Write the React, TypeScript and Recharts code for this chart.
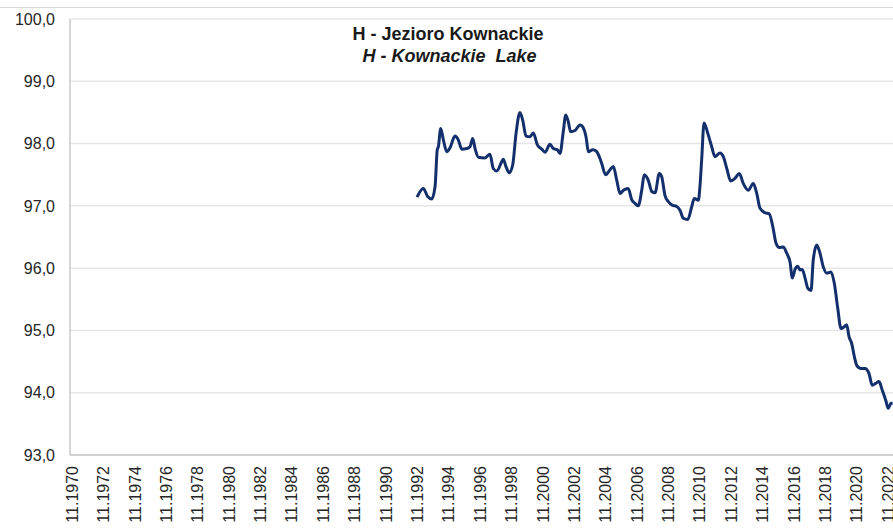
import { CartesianGrid, Line, LineChart, XAxis, YAxis } from 'recharts';

// water level of the lake (date as decimal year, value in m)
const dates = [
  1992.82, 1993.22, 1993.50, 1993.76, 1993.97, 1994.11, 1994.18, 1994.33, 1994.50, 1994.71,
  1994.92, 1995.24, 1995.45, 1995.67, 1995.99, 1996.20, 1996.37, 1996.52, 1996.73, 1997.15,
  1997.47, 1997.68, 1997.90, 1998.22, 1998.32, 1998.49, 1998.70, 1998.92, 1999.13, 1999.38,
  1999.55, 1999.77, 2000.02, 2000.23, 2000.49, 2000.77, 2000.98, 2001.29, 2001.51, 2001.76,
  2001.93, 2002.14, 2002.30, 2002.46, 2002.61, 2002.89, 2003.21, 2003.38, 2003.59, 2003.74,
  2004.02, 2004.27, 2004.48, 2004.59, 2004.84, 2005.12, 2005.33, 2005.55, 2005.76, 2005.97,
  2006.28, 2006.50, 2006.71, 2006.92, 2007.14, 2007.30, 2007.56, 2007.78, 2007.99, 2008.26,
  2008.41, 2008.62, 2008.83, 2009.09, 2009.37, 2009.58, 2009.79, 2010.07, 2010.33, 2010.49,
  2010.75, 2010.85, 2010.96, 2011.11, 2011.38, 2011.60, 2011.81, 2012.13, 2012.34, 2012.56,
  2012.81, 2013.08, 2013.36, 2013.61, 2013.93, 2014.25, 2014.47, 2014.68, 2015.00, 2015.27,
  2015.49, 2015.70, 2015.91, 2016.16, 2016.38, 2016.59, 2016.74, 2016.91, 2017.08, 2017.23,
  2017.37, 2017.55, 2017.72, 2017.93, 2018.07, 2018.29, 2018.50, 2018.71, 2018.93, 2019.20,
  2019.41, 2019.63, 2019.84, 2020.05, 2020.20, 2020.35, 2020.52, 2020.69, 2020.84, 2021.11,
  2021.37, 2021.62, 2021.83, 2022.05, 2022.26, 2022.47, 2022.69, 2022.85, 2023.03, 2023.13,
];

const levels = [
  97.14, 97.28, 97.15, 97.11, 97.31, 97.90, 97.95, 98.24, 98.06, 97.87,
  97.93, 98.12, 98.06, 97.91, 97.92, 97.95, 98.08, 97.92, 97.78, 97.77,
  97.83, 97.60, 97.56, 97.71, 97.75, 97.63, 97.53, 97.66, 98.16, 98.50,
  98.38, 98.12, 98.11, 98.17, 97.98, 97.91, 97.86, 97.99, 97.92, 97.90,
  97.84, 98.19, 98.46, 98.35, 98.19, 98.21, 98.30, 98.27, 98.11, 97.87,
  97.90, 97.87, 97.76, 97.68, 97.50, 97.58, 97.63, 97.41, 97.20, 97.25,
  97.28, 97.10, 97.04, 97.00, 97.25, 97.50, 97.41, 97.23, 97.21, 97.52,
  97.47, 97.17, 97.07, 97.01, 96.99, 96.93, 96.80, 96.78, 96.99, 97.12,
  97.09, 97.31, 97.74, 98.33, 98.14, 97.95, 97.79, 97.85, 97.79, 97.60,
  97.40, 97.44, 97.52, 97.36, 97.25, 97.36, 97.20, 96.96, 96.89, 96.87,
  96.67, 96.40, 96.33, 96.34, 96.24, 96.10, 95.84, 95.98, 96.03, 95.97,
  95.98, 95.84, 95.68, 95.64, 96.13, 96.37, 96.24, 96.02, 95.92, 95.94,
  95.76, 95.36, 95.03, 95.06, 95.09, 94.90, 94.79, 94.58, 94.44, 94.39,
  94.39, 94.31, 94.12, 94.15, 94.18, 94.04, 93.88, 93.75, 93.83, 93.83,
];

const xTickLabels = [
  '11.1970', '11.1972', '11.1974', '11.1976', '11.1978', '11.1980', '11.1982',
  '11.1984', '11.1986', '11.1988', '11.1990', '11.1992', '11.1994', '11.1996',
  '11.1998', '11.2000', '11.2002', '11.2004', '11.2006', '11.2008', '11.2010',
  '11.2012', '11.2014', '11.2016', '11.2018', '11.2020', '11.2022',
];

const yTicks = [93, 94, 95, 96, 97, 98, 99, 100];

const titlePl = 'H - Jezioro Kownackie';
const titleEn = 'H - Kownackie  Lake';

// "11.1970" -> 1970 + 10/12
const toYear = (label: string) => {
  const [m, y] = label.split('.');
  return Number(y) + (Number(m) - 1) / 12;
};

const data = dates.map((t, i) => ({ t, level: levels[i] }));
const xTicks = xTickLabels.map(toYear);

const font = '"Liberation Sans", Arial, sans-serif';

const XTick = (props: any) => {
  const { x, y, payload } = props;
  const label = xTickLabels.find((l) => Math.abs(toYear(l) - payload.value) < 0.01) || '';
  return (
    <text
      x={x}
      y={y}
      transform={`rotate(-90, ${x}, ${y})`}
      textAnchor="end"
      dy="0.36em"
      fill="#262626"
      fontSize={16}
      fontFamily={font}
    >
      {label}
    </text>
  );
};

const App = () => {
  return (
    <div style={{ position: 'fixed', left: 0, top: 0, width: 893, height: 528, overflow: 'hidden', background: '#fff' }}>
      <div style={{ position: 'absolute', left: 0, top: 7, width: 893, height: 1, background: '#d9d9d9' }} />
      <div style={{ position: 'absolute', left: 0, top: 0 }}>
        <LineChart
          width={893}
          height={528}
          data={data}
          margin={{ top: 19, right: 0, bottom: 0, left: 0 }}
        >
          <CartesianGrid vertical={false} stroke="#e6e6e6" strokeWidth={1.5} />
          <XAxis
            dataKey="t"
            type="number"
            domain={[1970.706, 2023.153]}
            allowDataOverflow
            ticks={xTicks}
            interval={0}
            height={73}
            tick={<XTick />}
            tickLine={false}
            tickSize={0}
            tickMargin={11}
            axisLine={{ stroke: '#c8c8c8', strokeWidth: 1.5 }}
          />
          <YAxis
            domain={[93, 100]}
            ticks={yTicks}
            interval={0}
            width={70}
            tickFormatter={(v: number) => v.toFixed(1).replace('.', ',')}
            tick={{ fill: '#262626', fontSize: 16, fontFamily: font }}
            tickLine={false}
            tickSize={0}
            tickMargin={15}
            axisLine={{ stroke: '#c8c8c8', strokeWidth: 1.5 }}
          />
          <Line
            type="monotone"
            dataKey="level"
            stroke="#14306c"
            strokeWidth={3}
            strokeLinejoin="round"
            dot={false}
            isAnimationActive={false}
          />
        </LineChart>
      </div>
      <div
        style={{
          position: 'absolute',
          left: 248,
          top: 23,
          width: 400,
          textAlign: 'center',
          fontFamily: font,
          fontWeight: 'bold',
          fontSize: 18,
          lineHeight: '22px',
          color: '#1a1a1a',
          whiteSpace: 'pre',
        }}
      >
        <div>{titlePl}</div>
        <div style={{ fontStyle: 'italic', marginLeft: 3 }}>{titleEn}</div>
      </div>
    </div>
  );
};

export default App;
